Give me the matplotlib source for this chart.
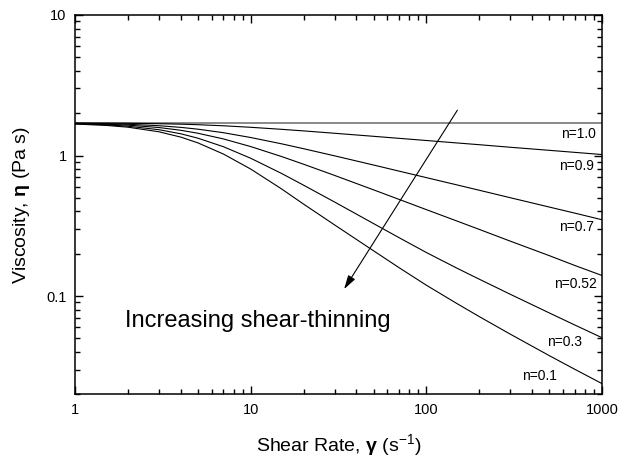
import numpy as np
import matplotlib
matplotlib.use("Agg")
import matplotlib.pyplot as plt
from matplotlib import ticker

plt.rcParams["font.family"] = ["Liberation Sans", "DejaVu Sans"]
plt.rcParams["mathtext.fontset"] = "custom"
plt.rcParams["mathtext.rm"] = "Liberation Sans"
plt.rcParams["mathtext.it"] = "Liberation Sans:italic"
plt.rcParams["mathtext.bf"] = "Liberation Sans:bold"

# shear rate [1/s] and viscosity [Pa s]
shear_rate = [1, 1.5, 2, 3, 4, 5, 7, 10, 15, 20, 30, 50, 70, 100, 150, 200, 300, 500, 700, 1000]
eta_n10 = [1.706, 1.706, 1.706, 1.706, 1.706, 1.706, 1.706, 1.706, 1.706, 1.706,
           1.706, 1.706, 1.706, 1.706, 1.706, 1.706, 1.706, 1.706, 1.706, 1.706]
eta_n09 = [1.703, 1.700, 1.696, 1.684, 1.671, 1.657, 1.628, 1.588, 1.536, 1.497,
           1.440, 1.370, 1.325, 1.279, 1.228, 1.194, 1.145, 1.089, 1.053, 1.016]
eta_n07 = [1.696, 1.685, 1.669, 1.630, 1.586, 1.540, 1.453, 1.343, 1.211, 1.118,
           0.995, 0.856, 0.774, 0.696, 0.617, 0.566, 0.501, 0.430, 0.389, 0.349]
eta_n052 = [1.690, 1.670, 1.645, 1.582, 1.512, 1.441, 1.312, 1.158, 0.983, 0.867,
            0.722, 0.570, 0.487, 0.412, 0.341, 0.298, 0.246, 0.194, 0.165, 0.140]
eta_n03 = [1.682, 1.654, 1.617, 1.527, 1.428, 1.329, 1.155, 0.956, 0.745, 0.615,
           0.467, 0.328, 0.260, 0.204, 0.1574, 0.1318, 0.1030, 0.0759, 0.0622, 0.0505]
eta_n01 = [1.675, 1.638, 1.591, 1.476, 1.352, 1.231, 1.024, 0.801, 0.578, 0.451,
           0.321, 0.210, 0.159, 0.1194, 0.0881, 0.0714, 0.0536, 0.0377, 0.0301, 0.0238]

labels = ["n=1.0", "n=0.9", "n=0.7", "n=0.52", "n=0.3", "n=0.1"]
curves = [eta_n10, eta_n09, eta_n07, eta_n052, eta_n03, eta_n01]
# where each label sits (right edge of text)
label_x = [918, 895, 895, 939, 771, 550]
label_y = [1.43, 0.836, 0.309, 0.1217, 0.047, 0.0272]

fig = plt.figure(figsize=(6.32, 4.61), dpi=100)
ax = fig.add_axes([0.1187, 0.1447, 0.834, 0.8228])

for i, eta in enumerate(curves):
    if i == 0:
        ax.plot(shear_rate, eta, color="#808080", lw=1.3)
    else:
        ax.plot(shear_rate, eta, color="black", lw=0.8)
    ax.text(label_x[i], label_y[i], labels[i], ha="right", va="center", fontsize=10)

ax.set_xscale("log")
ax.set_yscale("log")
ax.set_xlim(1, 1000)
ax.set_ylim(0.02, 10)

fmt = ticker.FuncFormatter(lambda v, p: "%g" % v)
ax.xaxis.set_major_formatter(fmt)
ax.yaxis.set_major_formatter(fmt)
ax.xaxis.set_minor_formatter(ticker.NullFormatter())
ax.yaxis.set_minor_formatter(ticker.NullFormatter())
ax.tick_params(which="both", direction="in", top=True, right=True, width=1)
ax.tick_params(which="major", length=6, labelsize=10.5, pad=6)
ax.tick_params(which="minor", length=3.5)
for s in ax.spines.values():
    s.set_linewidth(1.1)

ax.set_xlabel(r"Shear Rate, $\mathbf{\gamma}$ (s$^{-1}$)", fontsize=14, labelpad=11)
ax.set_ylabel(r"Viscosity, $\mathbf{\eta}$ (Pa s)", fontsize=14, labelpad=10)

ax.annotate("", xy=(34, 0.112), xytext=(150, 2.1),
            arrowprops=dict(arrowstyle="-|>,head_length=0.7,head_width=0.2",
                            color="black", lw=0.8,
                            mutation_scale=12, shrinkA=0, shrinkB=0))
ax.text(1.93, 0.0668, "Increasing shear-thinning", fontsize=17, ha="left", va="center")

plt.savefig("out.png", dpi=100)
